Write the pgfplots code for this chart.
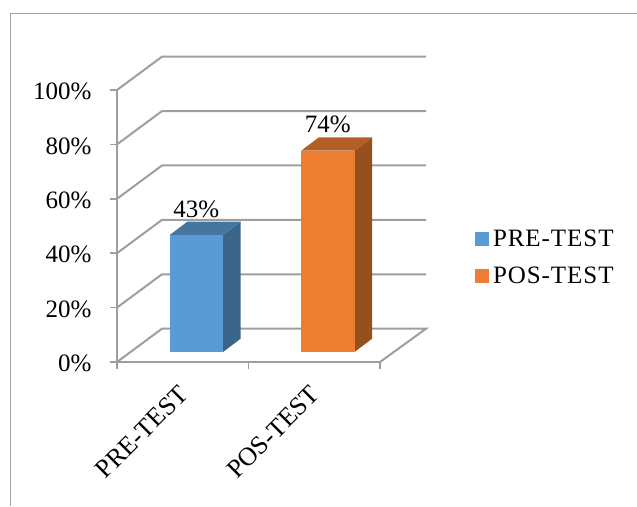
\documentclass[border=0pt]{standalone}
\usepackage{fontspec}
\setmainfont{Liberation Serif}
\newfontfamily\spaced[LetterSpace=3.8]{Liberation Serif}
\usepackage{pgfplots}
\pgfplotsset{compat=1.18}
\definecolor{gridgray}{HTML}{9E9E9E}
\definecolor{framegray}{HTML}{A3A3A3}
\definecolor{bluefront}{HTML}{5B9BD5}
\definecolor{blueside}{HTML}{3A6488}
\definecolor{bluetop}{HTML}{4575A1}
\definecolor{orangefront}{HTML}{ED7D31}
\definecolor{orangeside}{HTML}{96501E}
\definecolor{orangetop}{HTML}{B25E24}
\begin{document}
\begin{tikzpicture}[x=1pt,y=1pt]
\path[use as bounding box] (0,0) rectangle (637,506);
% outer chart frame: only the left and top edges are visible
\draw[framegray,line width=1.2pt] (10.5,0) -- (10.5,492.5) -- (637,492.5);
\begin{axis}[
  at={(117pt,144pt)}, anchor=south west,
  scale only axis, width=263pt, height=272pt,
  xmin=-0.5, xmax=1.5, ymin=0, ymax=100,
  clip=false,
  axis x line=bottom, axis y line=left,
  axis line style={gridgray,line width=2pt,-},
  every tick/.style={gridgray,line width=1.5pt},
  tick align=outside, major tick length=7pt,
  xtick={-0.5,0.5,1.5}, xticklabels={},
  extra x ticks={0,1}, extra x tick labels={PRE-TEST,POS-TEST},
  extra x tick style={
    major tick length=0pt,
    tick label style={rotate=45,anchor=north east,font=\fontsize{26}{28}\selectfont,xshift=-15.8pt,yshift=-8.3pt}
  },
  ytick={0,20,40,60,80,100},
  yticklabel={\pgfmathprintnumber[assume math mode=true]{\tick}\%},
  yticklabel style={font=\fontsize{25}{27}\selectfont,xshift=-15pt,yshift=-1.5pt,text=black},
  legend style={
    at={(358pt,132pt)}, anchor=north west,
    draw=none, fill=none, inner sep=0pt, outer sep=0pt,
    font=\fontsize{25}{27}\selectfont\spaced,
    row sep=20pt,
    legend cell align=left,
    /tikz/column 1/.style={column sep=4pt},
    nodes={inner sep=0pt, outer sep=0pt, text depth=0pt},
  },
  legend image code/.code={\fill[#1] (0pt,-18pt) rectangle (14pt,-4pt);},
  /tikz/bar width=53.4pt,
  nodes near coords={\pgfmathprintnumber[assume math mode=true]{\pgfplotspointmeta}\%},
  every node near coord/.append style={font=\fontsize{25}{27}\selectfont,text=black,anchor=base,yshift=18pt},
]
% back wall and side wall gridlines, 20 to 100 percent
\foreach \v in {20,40,60,80,100}{
  \edef\temp{\noexpand\addplot[forget plot,gridgray,line width=2pt,mark=none,nodes near coords={}] coordinates {(-0.5,\v) (-0.158,\v+12.25) (1.85,\v+12.25)};}
  \temp
}
% floor outline at 0 percent
\addplot[forget plot,gridgray,line width=2pt,mark=none,nodes near coords={}]
  coordinates {(-0.5,0) (-0.158,12.25) (1.85,12.25) (1.5,0)};

% blue column: right side and top faces
\addplot[forget plot,draw=none,fill=blueside,mark=none,nodes near coords={},xshift=13.6pt,yshift=10pt]
  coordinates {(0.203,0) (0.337,4.9) (0.337,47.9) (0.203,43)} -- cycle;
\addplot[forget plot,draw=none,fill=bluetop,mark=none,nodes near coords={},xshift=13.6pt,yshift=10pt]
  coordinates {(-0.203,43) (-0.069,47.9) (0.337,47.9) (0.203,43)} -- cycle;
% orange column: right side and top faces
\addplot[forget plot,draw=none,fill=orangeside,mark=none,nodes near coords={},xshift=13.6pt,yshift=10pt]
  coordinates {(1.203,0) (1.337,4.9) (1.337,78.9) (1.203,74)} -- cycle;
\addplot[forget plot,draw=none,fill=orangetop,mark=none,nodes near coords={},xshift=13.6pt,yshift=10pt]
  coordinates {(0.797,74) (0.931,78.9) (1.337,78.9) (1.203,74)} -- cycle;

% front faces of the columns carry the stated values
\addplot[ybar,draw=none,fill=bluefront,xshift=13.6pt,yshift=10pt] coordinates {(0,43)};
\addlegendentry{PRE-TEST}
\addplot[ybar,draw=none,fill=orangefront,xshift=13.6pt,yshift=10pt] coordinates {(1,74)};
\addlegendentry{POS-TEST}
\end{axis}
\end{tikzpicture}
\end{document}
